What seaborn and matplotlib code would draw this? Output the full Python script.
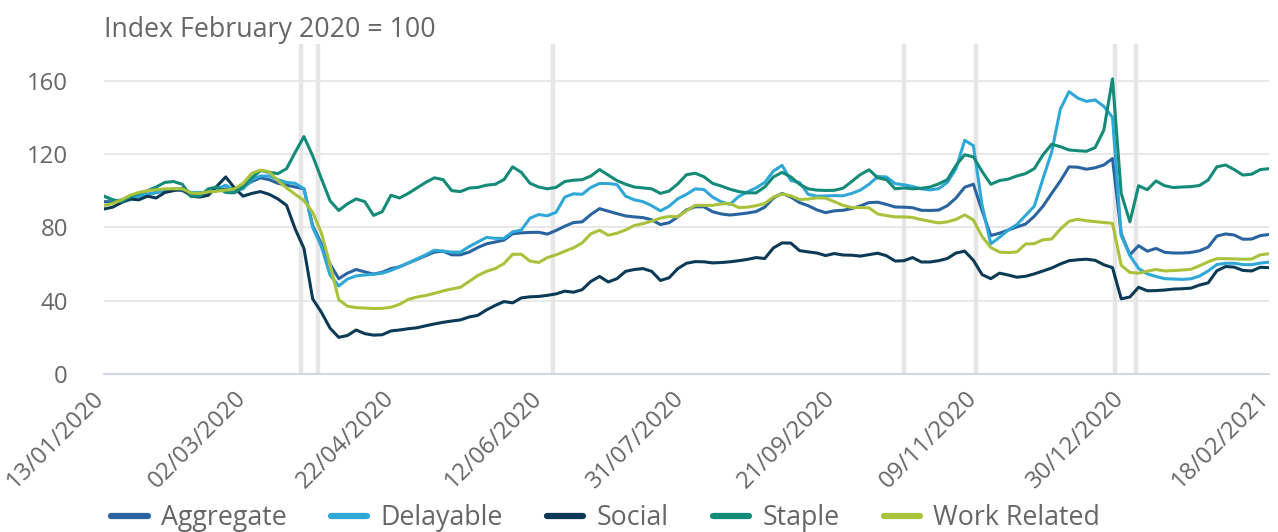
import pandas as pd
import seaborn as sns
import matplotlib.pyplot as plt
import matplotlib.dates as mdates
import matplotlib.transforms as mtransforms
from matplotlib.lines import Line2D

# values, one reading every third day
dates = pd.date_range('2020-01-13', '2021-02-18', freq='3D')

aggregate = [
    94, 94, 95, 96, 97, 98, 99, 100, 100.5, 100, 98, 98, 99, 100, 101,
    100, 102, 105, 107, 106, 104, 103, 102, 101, 81, 71, 60, 52, 55, 57,
    55.7, 54.5, 55.5, 57.5, 58.5, 60.5, 62.5, 64.5, 66.5, 67, 65, 65, 66.5, 69, 71,
    72, 73, 76.5, 77, 77.2, 77.3, 76.3, 78.3, 80.6, 82.6, 83, 87, 90.2, 88.8, 87.5,
    86.2, 85.7, 85.3, 84.1, 81.5, 82.5, 85.7, 89.5, 91.2, 91.2, 88.5, 87.3, 86.7, 87.2, 87.8,
    88.6, 91, 96, 98.5, 96.5, 93.5, 91.8, 89.5, 88, 89, 89.3, 90.2, 91.7, 93.5, 93.7,
    92.5, 91.1, 91, 90.7, 89.3, 89.2, 89.4, 91.8, 96, 101.9, 103.5, 89, 75.5, 76.8, 78.5,
    80.2, 81.8, 86, 91.5, 98.5, 105.3, 113, 112.8, 111.7, 112.5, 114, 117.5, 76.5, 65, 70,
    67, 68.5, 66.4, 66, 66, 66.3, 67.2, 69.2, 75.2, 76.4, 75.8, 73.5, 73.6, 75.5, 76.1,
]
delayable = [
    97, 95, 94, 95, 97, 98, 99, 100, 101, 101, 99, 99, 99, 101, 103,
    100, 101, 106, 108, 108, 106, 104.5, 104, 101, 80, 69.5, 54, 48, 51.8, 53.5,
    54, 54.4, 55, 56.5, 58.5, 60.6, 62.8, 65, 67.5, 67, 66.5, 66.5, 69.5, 72, 74.5,
    74, 74, 77.5, 78.5, 85, 87, 86.3, 88.2, 96.5, 98.3, 98, 101.8, 103.9, 103.9, 103.3,
    97, 95, 94, 91.8, 89, 91.5, 95.6, 98, 101, 100.6, 96.5, 93.9, 92.5, 96.8, 99.3,
    101.5, 104.5, 110.7, 113.8, 105.5, 104.5, 98, 97, 97.1, 97.3, 97.2, 98.5, 100.3, 103.5, 107.7,
    107.5, 103.8, 103.2, 102.3, 101, 100.4, 101.1, 104.5, 112, 127.5, 124.5, 92, 71, 74.5, 78.5,
    81.5, 86.5, 91.5, 106.5, 121, 144.5, 154, 150.5, 148.7, 149.5, 146, 140, 75.5, 64.6, 57.6,
    54.6, 53.2, 52, 51.8, 51.6, 51.9, 53.4, 56.2, 59.7, 60.4, 60.4, 59.7, 59.6, 60.5, 61,
]
social = [
    90, 91, 93.5, 95.5, 95, 97, 96, 99, 100, 101, 97, 96.5, 97.5, 102.5, 107.5,
    101.5, 97, 98.5, 99.5, 98, 95.5, 92, 79, 68.5, 41, 33.7, 25, 20, 21, 24,
    22, 21.2, 21.4, 23.5, 24, 24.7, 25.2, 26.3, 27.3, 28.2, 28.9, 29.5, 31.1, 32, 35,
    37.4, 39.5, 38.8, 41.5, 42.1, 42.3, 42.9, 43.7, 45.2, 44.6, 46, 50.5, 53.2, 50.2, 52,
    56, 57, 57.5, 56, 51, 52.5, 57.5, 60.4, 61.3, 61.2, 60.6, 60.8, 61.2, 61.8, 62.5,
    63.5, 63, 68.8, 71.5, 71.4, 67.3, 66.6, 66, 64.6, 65.7, 64.9, 64.8, 64.3, 65.1, 65.9,
    64.5, 61.6, 61.8, 63.5, 61.1, 61.1, 61.8, 63, 66, 67, 62, 54.2, 52, 55, 54,
    52.8, 53.3, 54.6, 56.2, 57.8, 60, 61.8, 62.3, 62.6, 62, 59.6, 58, 41, 42, 47.3,
    45.4, 45.5, 45.8, 46.3, 46.5, 46.8, 48.5, 49.7, 56.3, 58.6, 58.3, 56.5, 56.2, 58.2, 58,
]
staple = [
    97, 95, 94, 96.5, 98.5, 100, 102, 104.5, 105, 103.5, 97, 97, 101, 102, 99,
    98.8, 102, 107, 111, 110, 109.3, 112, 121, 129.5, 119, 106.6, 94.5, 89.2, 92.8, 95.5,
    94, 86.5, 88.5, 97.5, 96, 98.5, 101.5, 104.5, 107, 106, 100, 99.5, 101.4, 101.8, 103,
    103.5, 106, 113, 110, 104, 102, 101, 101.8, 105, 105.7, 106, 108, 111.5, 108.5, 105.5,
    103.5, 102, 101.5, 101, 98.5, 99.8, 103.7, 108.7, 109.5, 107.6, 104, 102.5, 100.8, 99.5, 98.8,
    98.8, 102, 107.5, 110, 107.5, 103.5, 101, 100.3, 100.1, 100.2, 101.3, 105, 108.8, 111.4, 107,
    106, 101, 101.5, 101, 101.3, 102, 103.7, 106, 113.8, 119.6, 118.4, 110.5, 103.5, 105.5, 106.3,
    108, 109.3, 112, 119.5, 125.3, 124, 122.2, 121.8, 121.5, 123.5, 133, 161, 98.5, 83, 102.7,
    100.5, 105.3, 102.7, 101.7, 102, 102.2, 102.8, 105.8, 113, 114, 111.5, 108.5, 109, 111.5, 112,
]
work_related = [
    92, 93, 95, 97.5, 99, 100, 100.5, 101, 101, 101, 98.7, 98.5, 99.3, 99.7, 100.3,
    101, 104, 109.5, 111.2, 110.3, 105.5, 101.5, 98, 94.6, 88.2, 77, 59.6, 40.5, 37, 36.2,
    36, 35.7, 35.8, 36.4, 38, 40.7, 42, 42.8, 44, 45.3, 46.4, 47.3, 50.5, 53.7, 56,
    57.5, 60.2, 65.3, 65.3, 61.6, 60.8, 63.5, 65, 67, 68.8, 71.5, 76.5, 78.4, 75.7, 76.8,
    78.6, 81, 82, 83.4, 85, 85.9, 85.8, 89, 92, 92, 92, 92.8, 93, 90.8, 91,
    91.8, 93, 96.5, 98.2, 97.2, 95.2, 95.4, 96.1, 95.9, 94, 92, 90.8, 90.8, 90.6, 87.3,
    86.4, 85.7, 85.7, 85.4, 84.2, 83.3, 82.4, 83, 84.3, 86.8, 84, 75, 69, 66.5, 66.2,
    66.6, 70.9, 71.1, 73.2, 73.6, 79, 83.3, 84.4, 83.6, 83.1, 82.6, 82.2, 59.3, 55.4, 55,
    56.1, 57, 56.2, 56.4, 56.7, 57.1, 59, 61.2, 62.9, 62.9, 62.8, 62.6, 62.7, 65, 65.6,
]

series_names = ['Aggregate', 'Delayable', 'Social', 'Staple', 'Work Related']
series_colors = ['#2a64a0', '#2fa8d8', '#0b3a56', '#148a78', '#a9c23c']

# grey vertical markers (policy dates)
event_dates = ['2020-03-21', '2020-03-27', '2020-06-16', '2020-10-15',
               '2020-11-09', '2020-12-27', '2021-01-03']
tick_dates = ['2020-01-13', '2020-03-02', '2020-04-22', '2020-06-12', '2020-07-31',
              '2020-09-21', '2020-11-09', '2020-12-30', '2021-02-18']

frames = []
for name, vals in zip(series_names, [aggregate, delayable, social, staple, work_related]):
    frames.append(pd.DataFrame({'date': dates, 'value': vals, 'series': name}))
df = pd.concat(frames, ignore_index=True)

sns.set_style('white')
plt.rcParams['font.family'] = ['Open Sans', 'DejaVu Sans']
grey = '#666666'
tick_size = 17.3
big_size = 19.3

fig = plt.figure(figsize=(12.78, 5.32), dpi=100)
ax = fig.add_axes([104 / 1278, 1 - 374 / 532, (1269 - 104) / 1278, (374 - 44) / 532])

for d in event_dates:
    ax.axvline(pd.Timestamp(d), color='#e6e6e6', lw=3.2, zorder=1)

sns.lineplot(data=df, x='date', y='value', hue='series', hue_order=series_names,
             palette=dict(zip(series_names, series_colors)), linewidth=2.2,
             legend=False, ax=ax, zorder=3)

ax.set_xlim(pd.Timestamp('2020-01-13'), pd.Timestamp('2021-02-18'))
ax.set_ylim(0, 180)
ax.set_yticks([0, 40, 80, 120, 160])
ax.set_xticks([pd.Timestamp(t) for t in tick_dates])
ax.xaxis.set_major_formatter(mdates.DateFormatter('%d/%m/%Y'))
ax.set_xlabel('')
ax.set_ylabel('')

ax.yaxis.grid(True, color='#e6e6e6', lw=1.3)
ax.xaxis.grid(False)
ax.set_axisbelow(True)
for side in ['left', 'top', 'right']:
    ax.spines[side].set_visible(False)
ax.spines['bottom'].set_color('#ccd6eb')
ax.spines['bottom'].set_linewidth(1.3)
ax.spines['bottom'].set_zorder(2)

ax.tick_params(axis='x', length=7, width=1.3, color='#ccd6eb', labelcolor=grey,
               labelsize=tick_size, pad=8)
ax.tick_params(axis='y', length=0, labelcolor=grey, labelsize=tick_size, pad=26)
shift = mtransforms.ScaledTranslation(-3 / 100, 0, fig.dpi_scale_trans)
for lbl in ax.get_xticklabels():
    lbl.set_rotation(45)
    lbl.set_ha('right')
    lbl.set_va('center')
    lbl.set_rotation_mode('anchor')
    lbl.set_transform(lbl.get_transform() + shift)

fig.text(104 / 1278, 1 - 30 / 532, 'Index February 2020 = 100', color=grey,
         fontsize=big_size, ha='left', va='center')

handles = [Line2D([0], [0], color=c, lw=4.5) for c in series_colors]
leg = fig.legend(handles, series_names, loc='center', bbox_to_anchor=(0.474, 1 - 518 / 532),
                 ncol=5, frameon=False, fontsize=big_size, handlelength=1.35,
                 handletextpad=0.5, columnspacing=1.65)
for t in leg.get_texts():
    t.set_color(grey)

fig.savefig('out.png', dpi=100)
